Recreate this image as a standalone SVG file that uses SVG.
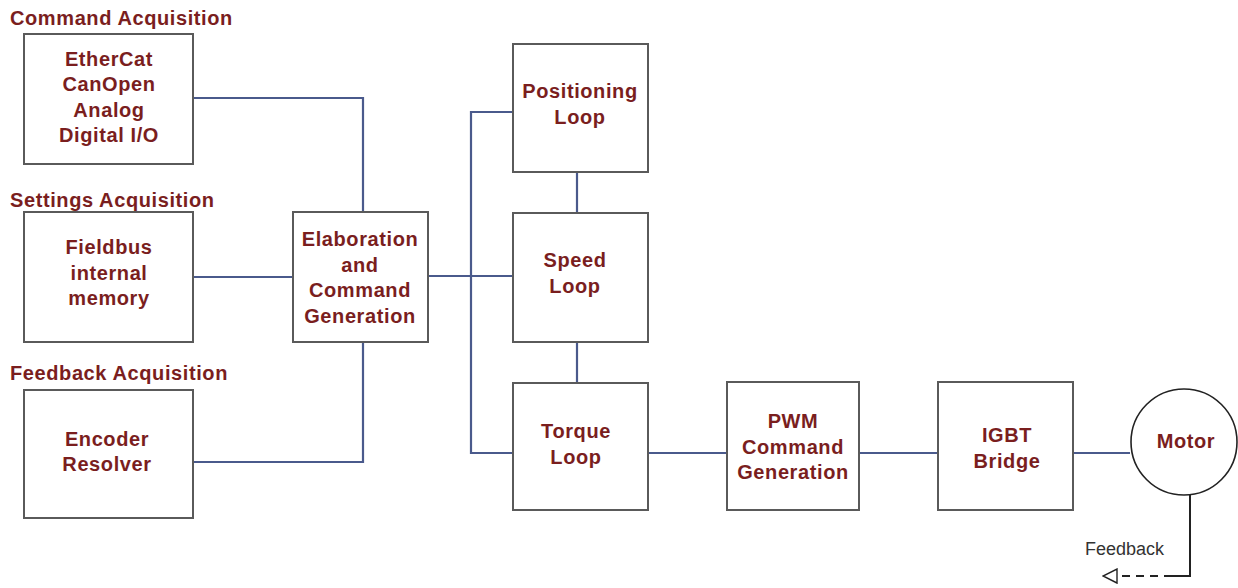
<svg xmlns="http://www.w3.org/2000/svg" width="1238" height="588" viewBox="0 0 1238 588">
<defs>
<style>
.box{fill:#fff;stroke:#5a5a5a;stroke-width:2}
.t{font-family:"Liberation Sans",Arial,sans-serif;font-weight:bold;font-size:20px;letter-spacing:0.6px;fill:#7a1e1e;text-anchor:middle}
.h{font-family:"Liberation Sans",Arial,sans-serif;font-weight:bold;font-size:20px;letter-spacing:0.6px;fill:#7a1e1e}
.c{fill:none;stroke:#4a5a8c;stroke-width:2.2}
.fb{font-family:"Liberation Sans",Arial,sans-serif;font-size:18px;fill:#333}
</style>
<marker id="open" viewBox="0 0 16 16" refX="15" refY="8" markerWidth="16" markerHeight="16" markerUnits="userSpaceOnUse" orient="auto">
<path d="M1,1 L15,8 L1,15 Z" fill="#fff" stroke="#222" stroke-width="1.4"/>
</marker>
</defs>
<rect width="1238" height="588" fill="#fff"/>
<g id="titles">
<text class="h" x="10" y="25">Command Acquisition</text>
<text class="h" x="10" y="207">Settings Acquisition</text>
<text class="h" x="10" y="380">Feedback Acquisition</text>
</g>
<g id="connectors">
<polyline class="c" points="194,98 363,98 363,212"/>
<line class="c" x1="194" y1="277" x2="293" y2="277"/>
<polyline class="c" points="194,462 363,462 363,342"/>
<line class="c" x1="428" y1="276" x2="513" y2="276"/>
<polyline class="c" stroke="#3f4f9e" points="513,112 471,112 471,453 513,453"/>
<line class="c" x1="577" y1="172" x2="577" y2="213"/>
<line class="c" x1="577" y1="342" x2="577" y2="383"/>
<line class="c" x1="648" y1="453" x2="727" y2="453"/>
<line class="c" x1="859" y1="453" x2="938" y2="453"/>
<line class="c" x1="1073" y1="453" x2="1130" y2="453"/>
<polyline fill="none" stroke="#222" stroke-width="2" points="1190,495 1190,576 1172,576"/>
<line stroke="#222" stroke-width="2" stroke-dasharray="8,6" x1="1172" y1="576" x2="1103" y2="576" marker-end="url(#open)"/>
<text class="fb" x="1085" y="555">Feedback</text>
</g>
<g id="command">
<rect class="box" x="24" y="34" width="169" height="130"/>
<text class="t"><tspan x="109" y="66">EtherCat</tspan><tspan x="109" y="91">CanOpen</tspan><tspan x="109" y="117">Analog</tspan><tspan x="109" y="142">Digital I/O</tspan></text>
</g>
<g id="settings">
<rect class="box" x="24" y="212" width="169" height="130"/>
<text class="t"><tspan x="109" y="254">Fieldbus</tspan><tspan x="109" y="280">internal</tspan><tspan x="109" y="305">memory</tspan></text>
</g>
<g id="feedback">
<rect class="box" x="24" y="390" width="169" height="128"/>
<text class="t"><tspan x="107" y="446">Encoder</tspan><tspan x="107" y="471">Resolver</tspan></text>
</g>
<g id="elaboration">
<rect class="box" x="293" y="212" width="135" height="130"/>
<text class="t"><tspan x="360" y="246">Elaboration</tspan><tspan x="360" y="272">and</tspan><tspan x="360" y="297">Command</tspan><tspan x="360" y="323">Generation</tspan></text>
</g>
<g id="positioning">
<rect class="box" x="513" y="44" width="135" height="128"/>
<text class="t"><tspan x="580" y="98">Positioning</tspan><tspan x="580" y="124">Loop</tspan></text>
</g>
<g id="speed">
<rect class="box" x="513" y="213" width="135" height="129"/>
<text class="t"><tspan x="575" y="267">Speed</tspan><tspan x="575" y="293">Loop</tspan></text>
</g>
<g id="torque">
<rect class="box" x="513" y="383" width="135" height="127"/>
<text class="t"><tspan x="576" y="438">Torque</tspan><tspan x="576" y="464">Loop</tspan></text>
</g>
<g id="pwm">
<rect class="box" x="727" y="382" width="132" height="128"/>
<text class="t"><tspan x="793" y="428">PWM</tspan><tspan x="793" y="454">Command</tspan><tspan x="793" y="479">Generation</tspan></text>
</g>
<g id="igbt">
<rect class="box" x="938" y="382" width="135" height="128"/>
<text class="t"><tspan x="1007" y="442">IGBT</tspan><tspan x="1007" y="468">Bridge</tspan></text>
</g>
<g id="motor">
<circle cx="1184" cy="442" r="53" fill="#fff" stroke="#222" stroke-width="1.6"/>
<text class="t" x="1186" y="448">Motor</text>
</g>
</svg>
